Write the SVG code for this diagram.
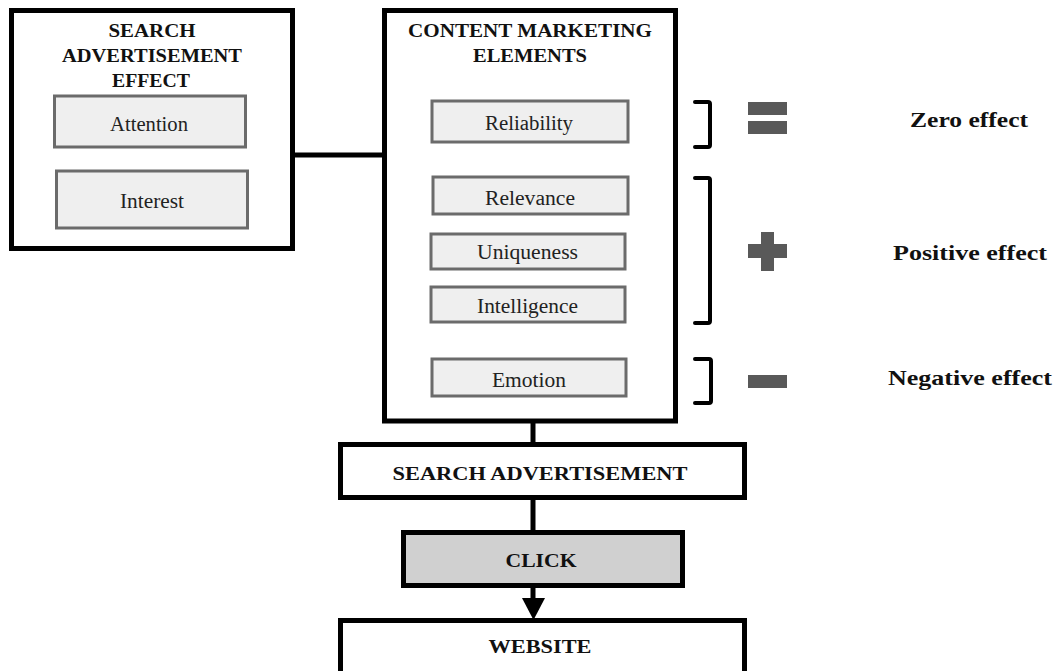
<svg xmlns="http://www.w3.org/2000/svg" width="1056" height="671" viewBox="0 0 1056 671">
<defs>
<style>
.outer{fill:#fff;stroke:#000;stroke-width:5}
.inner{fill:#efefef;stroke:#6b6b6b;stroke-width:3}
.click{fill:#d0d0d0;stroke:#000;stroke-width:5}
.bt{font-family:"Liberation Serif","Times New Roman",serif;font-weight:bold;fill:#111;text-anchor:middle}
.rt{font-family:"Liberation Serif","Times New Roman",serif;fill:#222;text-anchor:middle}
.conn{stroke:#000;stroke-width:5;fill:none}
.brk{stroke:#000;stroke-width:4;fill:none;stroke-linejoin:round;stroke-linecap:round}
.sym{fill:#595959}
</style>
</defs>
<rect width="1056" height="671" fill="#fff"/>
<g id="connectors">
<line class="conn" x1="293" y1="155" x2="384" y2="155"/>
<line class="conn" x1="533" y1="421" x2="533" y2="444"/>
<line class="conn" x1="533" y1="498" x2="533" y2="531"/>
<line class="conn" x1="533" y1="587" x2="533" y2="602"/>
<polygon points="522,598 545,598 533.5,620" fill="#000"/>
</g>
<g id="search-ad-effect">
<rect class="outer" x="11.5" y="10.5" width="281" height="238"/>
<text class="bt" x="152" y="37" font-size="19" textLength="87" lengthAdjust="spacingAndGlyphs">SEARCH</text>
<text class="bt" x="152" y="62" font-size="19" textLength="180" lengthAdjust="spacingAndGlyphs">ADVERTISEMENT</text>
<text class="bt" x="151" y="87" font-size="19" textLength="78" lengthAdjust="spacingAndGlyphs">EFFECT</text>
</g>
<g id="attention">
<rect class="inner" x="54.5" y="96" width="191" height="51"/>
<text class="rt" x="149" y="131" font-size="20" textLength="78" lengthAdjust="spacingAndGlyphs">Attention</text>
</g>
<g id="interest">
<rect class="inner" x="56.5" y="171" width="191" height="57"/>
<text class="rt" x="152" y="208" font-size="20" textLength="64" lengthAdjust="spacingAndGlyphs">Interest</text>
</g>
<g id="content-marketing">
<rect class="outer" x="384.5" y="10.5" width="291" height="410.5"/>
<text class="bt" x="530" y="37" font-size="19" textLength="244" lengthAdjust="spacingAndGlyphs">CONTENT MARKETING</text>
<text class="bt" x="530" y="62" font-size="19" textLength="114" lengthAdjust="spacingAndGlyphs">ELEMENTS</text>
</g>
<g id="reliability">
<rect class="inner" x="432" y="101" width="196" height="41"/>
<text class="rt" x="529" y="130" font-size="20" textLength="88" lengthAdjust="spacingAndGlyphs">Reliability</text>
</g>
<g id="relevance">
<rect class="inner" x="433" y="177" width="195" height="37"/>
<text class="rt" x="530" y="205" font-size="20" textLength="90" lengthAdjust="spacingAndGlyphs">Relevance</text>
</g>
<g id="uniqueness">
<rect class="inner" x="431" y="234" width="194" height="35"/>
<text class="rt" x="527.5" y="259" font-size="20" textLength="101" lengthAdjust="spacingAndGlyphs">Uniqueness</text>
</g>
<g id="intelligence">
<rect class="inner" x="431" y="287" width="194" height="35"/>
<text class="rt" x="527.5" y="313" font-size="20" textLength="101" lengthAdjust="spacingAndGlyphs">Intelligence</text>
</g>
<g id="emotion">
<rect class="inner" x="432" y="359" width="194" height="37"/>
<text class="rt" x="529" y="387" font-size="20" textLength="74" lengthAdjust="spacingAndGlyphs">Emotion</text>
</g>
<g id="zero-effect">
<path class="brk" d="M695,102 H708 Q710,102 710,104 V145 Q710,147 708,147 H695"/>
<rect class="sym" x="748" y="102" width="39" height="13"/>
<rect class="sym" x="748" y="121" width="39" height="13"/>
<text class="bt" x="969" y="127" font-size="21" textLength="118" lengthAdjust="spacingAndGlyphs">Zero effect</text>
</g>
<g id="positive-effect">
<path class="brk" d="M695,178 H708 Q710,178 710,180 V321 Q710,323 708,323 H695"/>
<rect class="sym" x="748" y="244" width="39" height="14"/>
<rect class="sym" x="761" y="232" width="13" height="39"/>
<text class="bt" x="970" y="260" font-size="21" textLength="154" lengthAdjust="spacingAndGlyphs">Positive effect</text>
</g>
<g id="negative-effect">
<path class="brk" d="M695,359 H709 Q711,359 711,361 V401 Q711,403 709,403 H695"/>
<rect class="sym" x="748" y="375" width="39" height="13"/>
<text class="bt" x="970" y="385" font-size="21" textLength="164" lengthAdjust="spacingAndGlyphs">Negative effect</text>
</g>
<g id="search-advertisement">
<rect class="outer" x="340.5" y="444.5" width="404" height="53"/>
<text class="bt" x="540" y="480" font-size="19" textLength="295" lengthAdjust="spacingAndGlyphs">SEARCH ADVERTISEMENT</text>
</g>
<g id="click">
<rect class="click" x="403.5" y="532.5" width="279" height="53"/>
<text class="bt" x="541" y="567" font-size="19" textLength="71" lengthAdjust="spacingAndGlyphs">CLICK</text>
</g>
<g id="website">
<rect class="outer" x="340.5" y="620.5" width="404" height="55"/>
<text class="bt" x="540" y="653" font-size="19" textLength="103" lengthAdjust="spacingAndGlyphs">WEBSITE</text>
</g>
</svg>
